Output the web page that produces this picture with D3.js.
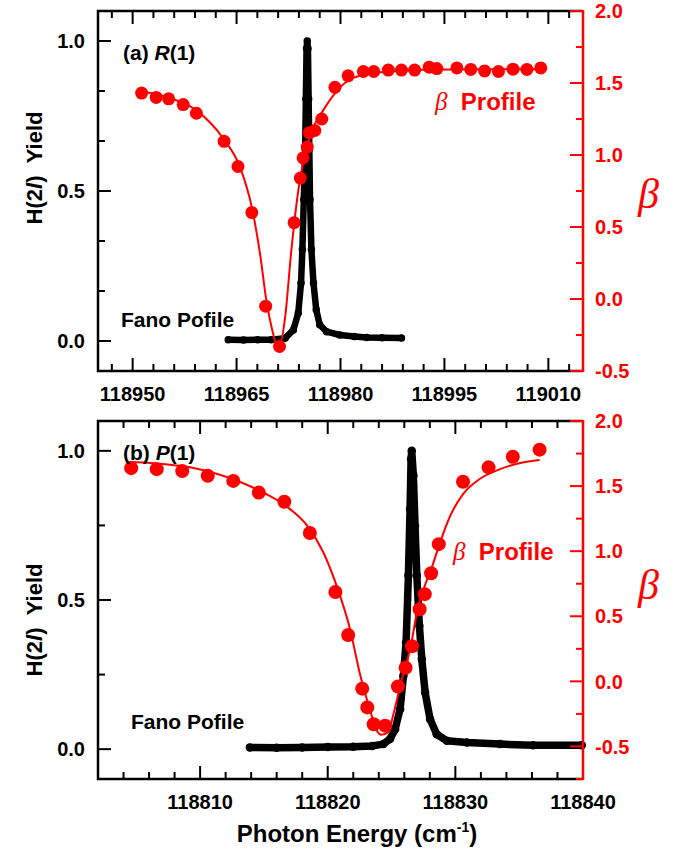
<!DOCTYPE html>
<html>
<head>
<meta charset="utf-8">
<script src="https://cdn.jsdelivr.net/npm/d3@7"></script>
<style>
  body { margin: 0; background: #fff; }
  svg { display: block; font-family: "Liberation Sans", Arial, sans-serif; }
</style>
</head>
<body>
<div id="chart"></div>
<script>
// ---- panel (a) R(1) ----
const rEnergy = [118951.3, 118953.4, 118955.2, 118957.3, 118959.2, 118963.2, 118965.2, 118967.2,
  118969.2, 118971.2, 118973.3, 118974.2, 118974.6, 118975.2, 118975.5, 118976.3, 118977.3,
  118979.2, 118981.1, 118983.3, 118984.8, 118986.9, 118988.8, 118990.7, 118992.8, 118993.9,
  118996.8, 118998.8, 119000.8, 119002.8, 119004.9, 119006.9, 119008.9];
const rBeta = [1.43, 1.40, 1.39, 1.35, 1.29, 1.095, 0.92, 0.60,
  -0.05, -0.33, 0.53, 0.84, 0.98, 1.055, 1.155, 1.17, 1.25,
  1.47, 1.55, 1.58, 1.58, 1.59, 1.59, 1.59, 1.61, 1.60,
  1.605, 1.594, 1.584, 1.58, 1.596, 1.594, 1.605];

const rFitE = [118951.0, 118954.9, 118959.2, 118963.1, 118965.5, 118967.2, 118968.4, 118969.3,
  118970.3, 118971.0, 118972.0, 118972.9, 118973.9, 118974.9, 118976.1, 118977.5, 118979.0,
  118980.9, 118983.8, 118988.6, 118995.8, 119009.5];
const rFitB = [1.445, 1.403, 1.31, 1.113, 0.916, 0.637, 0.31, -0.01,
  -0.245, -0.35, -0.13, 0.335, 0.75, 1.01, 1.195, 1.31, 1.415,
  1.51, 1.56, 1.585, 1.594, 1.595];

const rFanoE = [118963.8, 118966.0, 118968.0, 118970.0, 118972.0, 118973.2, 118973.9, 118974.3,
  118974.5, 118974.7, 118974.9, 118975.0, 118975.1, 118975.2, 118975.3, 118975.4, 118975.5,
  118975.6, 118975.8, 118976.1, 118976.5, 118977.0, 118978.0, 118979.9, 118982.0, 118983.8,
  118986.0, 118988.8];
const rFanoY = [0.004, 0.003, 0.004, 0.004, 0.009, 0.037, 0.093, 0.193,
  0.305, 0.472, 0.64, 0.807, 0.975, 1.0, 0.975, 0.807, 0.64,
  0.472, 0.305, 0.193, 0.104, 0.054, 0.031, 0.02, 0.015, 0.012,
  0.011, 0.01];

// ---- panel (b) P(1) ----
const pEnergy = [118804.6, 118806.6, 118808.6, 118810.6, 118812.6, 118814.6, 118816.6, 118818.6,
  118820.6, 118821.6, 118822.7, 118823.1, 118823.6, 118824.5, 118825.5, 118826.1, 118826.6,
  118827.2, 118827.6, 118828.1, 118828.7, 118830.6, 118832.6, 118834.5, 118836.6];
const pBeta = [1.638, 1.63, 1.615, 1.58, 1.54, 1.45, 1.38, 1.14,
  0.687, 0.356, -0.056, -0.20, -0.33, -0.34, -0.04, 0.105, 0.27,
  0.554, 0.67, 0.83, 1.054, 1.533, 1.644, 1.725, 1.78];

const pFitE = [118804.25, 118806.6, 118809.2, 118811.8, 118814.4, 118817.05, 118818.4, 118819.66,
  118820.7, 118821.75, 118822.5, 118823.3, 118823.8, 118824.2, 118824.75, 118825.1, 118825.8,
  118826.45, 118827.1, 118827.6, 118828.15, 118828.8, 118829.6, 118830.6, 118831.9, 118833.5,
  118835.1, 118836.6];
const pFitB = [1.687, 1.674, 1.644, 1.58, 1.477, 1.323, 1.195, 0.99,
  0.733, 0.40, 0.067, -0.215, -0.37, -0.41, -0.39, -0.27, 0.015,
  0.246, 0.58, 0.733, 0.874, 1.067, 1.272, 1.438, 1.554, 1.63,
  1.677, 1.70];

const pFanoE = [118813.9, 118816.0, 118818.0, 118820.0, 118822.0, 118823.5, 118824.36, 118824.88,
  118825.28, 118825.67, 118825.93, 118826.14, 118826.32, 118826.45, 118826.53, 118826.58, 118826.71,
  118826.84, 118826.98, 118827.18, 118827.37, 118827.63, 118828.02, 118828.54, 118829.33, 118830.9,
  118833.5, 118836.1, 118839.9];
const pFanoY = [0.006, 0.005, 0.006, 0.007, 0.008, 0.011, 0.017, 0.034,
  0.067, 0.134, 0.246, 0.358, 0.582, 0.805, 0.973, 1.0, 0.917,
  0.749, 0.582, 0.414, 0.302, 0.19, 0.10, 0.05, 0.028, 0.022,
  0.017, 0.013, 0.013];

// tick labels
const rTickLabels = [118950, 118965, 118980, 118995, 119010];
const pTickLabels = [118810, 118820, 118830, 118840];
const yieldTicks = [0.0, 0.5, 1.0];
const betaTicks = [-0.5, 0.0, 0.5, 1.0, 1.5, 2.0];

const W = 695, H = 856;
const RED = '#ff0000';
const svg = d3.select('#chart').append('svg')
  .attr('width', W).attr('height', H);

function drawPanel(cfg) {
  const x = d3.scaleLinear().domain(cfg.xDomain).range([98, 583]);
  const y = d3.scaleLinear().domain([-0.1, 1.1]).range([cfg.bottom, cfg.top]);
  const yb = d3.scaleLinear().domain(cfg.betaDomain).range([cfg.bottom, cfg.top]);
  const g = svg.append('g');

  // Fano profile (black dense data)
  const fano = cfg.fanoE.map((e, i) => [e, cfg.fanoY[i]]);
  g.append('path')
    .datum(fano)
    .attr('fill', 'none')
    .attr('stroke', '#000')
    .attr('stroke-width', cfg.fanoWidth)
    .attr('stroke-linejoin', 'round')
    .attr('stroke-linecap', 'round')
    .attr('d', d3.line().x(d => x(d[0])).y(d => y(d[1])));
  g.append('g').selectAll('circle')
    .data(fano)
    .join('circle')
    .attr('cx', d => x(d[0]))
    .attr('cy', d => y(d[1]))
    .attr('r', cfg.fanoWidth / 2 + 0.5)
    .attr('fill', '#000');

  // beta fit line
  const fit = cfg.fitE.map((e, i) => [e, cfg.fitB[i]]);
  g.append('path')
    .datum(fit)
    .attr('fill', 'none')
    .attr('stroke', RED)
    .attr('stroke-width', 2)
    .attr('d', d3.line().curve(d3.curveMonotoneX).x(d => x(d[0])).y(d => yb(d[1])));

  // beta points
  g.append('g').selectAll('circle')
    .data(cfg.energy.map((e, i) => [e, cfg.beta[i]]))
    .join('circle')
    .attr('cx', d => x(d[0]))
    .attr('cy', d => yb(d[1]))
    .attr('r', cfg.dotR)
    .attr('fill', RED);

  // frame
  const ax = g.append('g').attr('stroke', '#000').attr('stroke-width', 2.5).attr('fill', 'none');
  ax.append('path').attr('d', `M583,${cfg.top}H98V${cfg.bottom}H583`);

  // x ticks (bottom and top, inward)
  const [x0, x1] = cfg.xDomain;
  const xt = d3.range(Math.ceil(x0 / cfg.minorStep) * cfg.minorStep, x1 + 0.001, cfg.minorStep)
    .filter(v => x(v) > 100 && x(v) < 581);
  xt.forEach(v => {
    const isMajor = Math.abs(((v - cfg.majorBase) % cfg.majorStep + cfg.majorStep) % cfg.majorStep) < 1e-6;
    const len = isMajor ? 13 : 7;
    ax.append('line').attr('x1', x(v)).attr('x2', x(v)).attr('y1', cfg.bottom).attr('y2', cfg.bottom - len).attr('stroke-width', 2);
    ax.append('line').attr('x1', x(v)).attr('x2', x(v)).attr('y1', cfg.top).attr('y2', cfg.top + len).attr('stroke-width', 2);
  });
  g.append('g').selectAll('text')
    .data(cfg.xLabels)
    .join('text')
    .attr('x', d => x(d))
    .attr('y', cfg.bottom + 30)
    .attr('text-anchor', 'middle')
    .attr('font-size', 20)
    .attr('font-weight', 'bold')
    .text(d => d);

  // left yield axis
  const yMinor = d3.range(0, 1.0001, cfg.yieldMinor);
  yMinor.forEach(v => {
    const isMajor = Math.abs(v * 2 - Math.round(v * 2)) < 1e-6;
    ax.append('line').attr('x1', 98).attr('x2', 98 + (isMajor ? 13 : 7))
      .attr('y1', y(v)).attr('y2', y(v)).attr('stroke-width', 2);
  });
  g.append('g').selectAll('text')
    .data(yieldTicks)
    .join('text')
    .attr('x', 85)
    .attr('y', d => y(d))
    .attr('dy', '0.36em')
    .attr('text-anchor', 'end')
    .attr('font-size', 20)
    .attr('font-weight', 'bold')
    .text(d => d.toFixed(1));

  const yl = g.append('text')
    .attr('transform', `translate(42,${cfg.yLabelY}) rotate(-90)`)
    .attr('text-anchor', 'middle')
    .attr('font-size', 22)
    .attr('font-weight', 'bold');
  yl.append('tspan').text('H(2');
  yl.append('tspan').attr('font-style', 'italic').text('l');
  yl.append('tspan').text(')\u00a0\u00a0Yield');

  // right beta axis (red)
  const rax = g.append('g').attr('stroke', RED).attr('stroke-width', 2.5);
  rax.append('line').attr('x1', 583).attr('x2', 583).attr('y1', cfg.top - 1).attr('y2', cfg.bottom + 1);
  d3.range(cfg.betaDomain[0], 2.0001, 0.25).forEach(v => {
    const isMajor = Math.abs(v * 2 - Math.round(v * 2)) < 1e-6;
    rax.append('line').attr('x1', 583).attr('x2', 583 - (isMajor ? 13 : 7))
      .attr('y1', yb(v)).attr('y2', yb(v)).attr('stroke-width', 2);
  });
  g.append('g').selectAll('text')
    .data(betaTicks)
    .join('text')
    .attr('x', 595)
    .attr('y', d => yb(d))
    .attr('dy', '0.36em')
    .attr('fill', RED)
    .attr('font-size', 20)
    .attr('font-weight', 'bold')
    .text(d => d.toFixed(1));

  g.append('text')
    .attr('x', 638)
    .attr('y', cfg.bigBetaY)
    .attr('fill', RED)
    .attr('font-family', '"Liberation Serif", "DejaVu Serif", serif')
    .attr('font-style', 'italic')
    .attr('font-size', 42)
    .text('\u03b2');

  // annotations
  const lab = g.append('text')
    .attr('x', 123).attr('y', cfg.top + cfg.labelDy)
    .attr('font-size', 21).attr('font-weight', 'bold');
  lab.append('tspan').text(cfg.label[0] + ' ');
  lab.append('tspan').attr('font-style', 'italic').text(cfg.label[1]);
  lab.append('tspan').text('(1)');

  const bp = g.append('text')
    .attr('x', cfg.betaLabel[0]).attr('y', cfg.betaLabel[1])
    .attr('fill', RED).attr('font-size', 24).attr('font-weight', 'bold');
  bp.append('tspan')
    .attr('font-family', '"Liberation Serif", "DejaVu Serif", serif')
    .attr('font-style', 'italic').attr('font-weight', 'normal').attr('font-size', 25)
    .text('\u03b2');
  bp.append('tspan').text('\u00a0 Profile');

  g.append('text')
    .attr('x', cfg.fanoLabel[0]).attr('y', cfg.fanoLabel[1])
    .attr('font-size', 21).attr('font-weight', 'bold')
    .text('Fano Pofile');
}

drawPanel({
  top: 11, bottom: 371,
  xDomain: [118945, 119015], minorStep: 3, majorStep: 15, majorBase: 118950,
  xLabels: rTickLabels, betaDomain: [-0.5, 2.0], yieldMinor: 1 / 6,
  energy: rEnergy, beta: rBeta, fitE: rFitE, fitB: rFitB, fanoE: rFanoE, fanoY: rFanoY,
  fanoWidth: 6.5, dotR: 6.5,
  yLabelY: 168, bigBetaY: 208, label: ['(a)', 'R'], labelDy: 49,
  betaLabel: [435, 110], fanoLabel: [121, 327]
});

drawPanel({
  top: 421, bottom: 779,
  xDomain: [118802, 118840], minorStep: 2, majorStep: 10, majorBase: 118810,
  xLabels: pTickLabels, betaDomain: [-0.75, 2.0], yieldMinor: 0.25,
  energy: pEnergy, beta: pBeta, fitE: pFitE, fitB: pFitB, fanoE: pFanoE, fanoY: pFanoY,
  fanoWidth: 7.5, dotR: 7,
  yLabelY: 620, bigBetaY: 599, label: ['(b)', 'P'], labelDy: 39,
  betaLabel: [453, 560], fanoLabel: [131, 729]
});

// x axis title
const xt = svg.append('text')
  .attr('x', 357).attr('y', 842)
  .attr('text-anchor', 'middle')
  .attr('font-size', 24).attr('font-weight', 'bold');
xt.append('tspan').text('Photon Energy (cm');
xt.append('tspan').attr('font-size', 14).attr('dy', -10).text('-1');
xt.append('tspan').attr('dy', 10).text(')');
</script>
</body>
</html>
